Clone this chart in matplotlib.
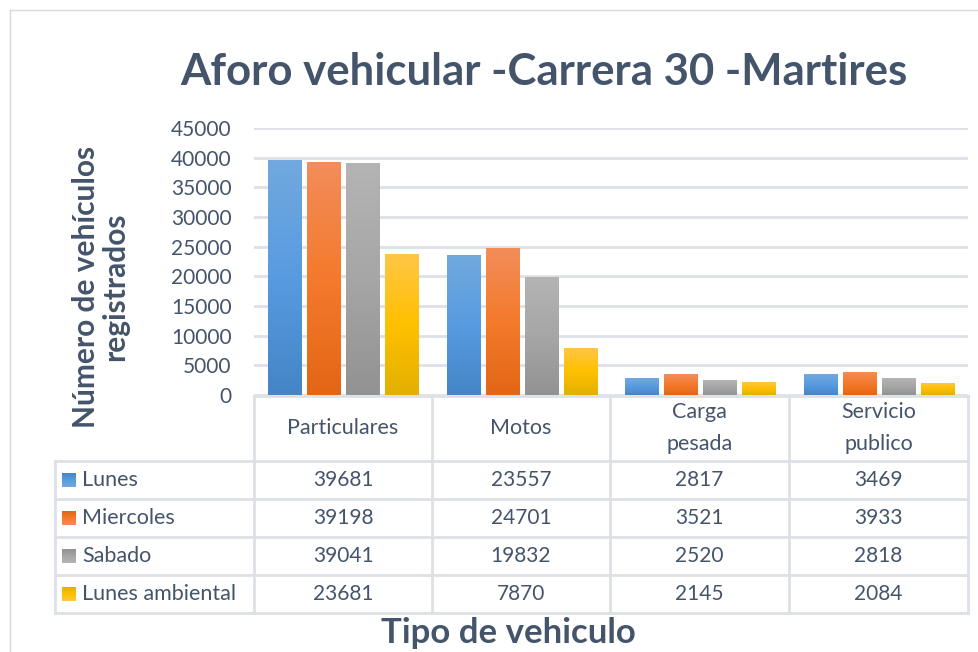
import numpy as np
import matplotlib.pyplot as plt
from matplotlib.colors import LinearSegmentedColormap

# data
categorias = ['Particulares', 'Motos', 'Carga\npesada', 'Servicio\npublico']
series = ['Lunes', 'Miercoles', 'Sabado', 'Lunes ambiental']
lunes = [39681, 23557, 2817, 3469]
miercoles = [39198, 24701, 3521, 3933]
sabado = [39041, 19832, 2520, 2818]
lunes_amb = [23681, 7870, 2145, 2084]
valores = [lunes, miercoles, sabado, lunes_amb]

# gradient colours (top, middle, bottom) per series
grad = [
    ['#72a9de', '#589be0', '#4485c6'],
    ['#f28d5a', '#f47a2c', '#e26615'],
    ['#b4b4b4', '#a6a6a6', '#929292'],
    ['#ffc646', '#ffc000', '#e2b000'],
]

plt.rcParams['font.family'] = ['Lato', 'DejaVu Sans']
W, H = 979, 652
fig = plt.figure(figsize=(W / 100, H / 100), dpi=100)

# pixel helper axes for table and frame
ov = fig.add_axes([0, 0, 1, 1])
ov.set_xlim(0, W)
ov.set_ylim(H, 0)
ov.axis('off')

grid_c = '#dde1e7'
txt_c = '#44546a'
head_c = '#44546a'

# chart frame
ov.plot([10, 10], [10, H], color='#d9d9d9', lw=1)
ov.plot([10, W], [10, 10], color='#d9d9d9', lw=1)

x_left, x_right = 254, 968
y_zero, y_top = 395, 128
ax = fig.add_axes([x_left / W, (H - y_zero) / H, (x_right - x_left) / W, (y_zero - y_top) / H])
ax.set_xlim(0, 4)
ax.set_ylim(0, 45000)
ax.set_yticks(np.arange(0, 45001, 5000))
ax.tick_params(axis='y', length=0, labelsize=15, labelcolor=txt_c, pad=16)
ax.set_xticks([])
for s in ax.spines.values():
    s.set_visible(False)
ax.grid(axis='y', color=grid_c, lw=2)
ax.set_axisbelow(True)

bw = 0.185
step = 0.219
x = np.arange(4) + 0.5
for i, vals in enumerate(valores):
    cm = LinearSegmentedColormap.from_list('g%d' % i, grad[i][::-1])
    bars = ax.bar(x + (i - 1.5) * step, vals, bw, color='none', edgecolor='none', zorder=3)
    for b in bars:
        x0, w, h = b.get_x(), b.get_width(), b.get_height()
        img = np.linspace(0, 1, 256).reshape(-1, 1)
        im = ax.imshow(img, cmap=cm, origin='lower', extent=[x0, x0 + w, 0, h],
                       aspect='auto', zorder=3, interpolation='bicubic')
        im.set_clip_path(b)
ax.set_xlim(0, 4)
ax.set_ylim(0, 45000)

# data table
cols = [254, 432, 610, 789, 968]
rows = [461, 499, 537, 575, 613]
lw = 2
ov.plot([254, 968], [396, 396], color=grid_c, lw=lw)
for y in rows:
    ov.plot([55, 968], [y, y], color=grid_c, lw=lw)
for xc in cols:
    ov.plot([xc, xc], [396, 613], color=grid_c, lw=lw)
ov.plot([55, 55], [461, 613], color=grid_c, lw=lw)

for j, cat in enumerate(categorias):
    cx = (cols[j] + cols[j + 1]) / 2
    ov.text(cx, 428, cat, ha='center', va='center', fontsize=15.5, color=txt_c, linespacing=1.75)

for i, name in enumerate(series):
    cy = (rows[i] + rows[i + 1]) / 2
    cm = LinearSegmentedColormap.from_list('k%d' % i, grad[i][::-1])
    ov.imshow(np.linspace(0, 1, 64).reshape(-1, 1), cmap=cm, origin='upper',
              extent=[62, 76, cy + 7, cy - 7], aspect='auto', zorder=3)
    ov.text(82, cy, name, ha='left', va='center', fontsize=15.5, color=txt_c)
    for j in range(4):
        cx = (cols[j] + cols[j + 1]) / 2
        ov.text(cx, cy, str(valores[i][j]), ha='center', va='center', fontsize=15, color=txt_c)
ov.set_xlim(0, W)
ov.set_ylim(H, 0)

ov.text(544, 72, 'Aforo vehicular -Carrera 30 -Martires', ha='center', va='center',
        fontsize=31.5, fontweight='bold', color=head_c)
ov.text(101, 287, 'Número de vehículos\nregistrados', ha='center', va='center', rotation=90,
        fontsize=21.5, fontweight='bold', color=head_c, linespacing=1.05)
ov.text(508, 633, 'Tipo de vehiculo', ha='center', va='center',
        fontsize=25, fontweight='bold', color=head_c)

fig.savefig('out.png', dpi=100)
